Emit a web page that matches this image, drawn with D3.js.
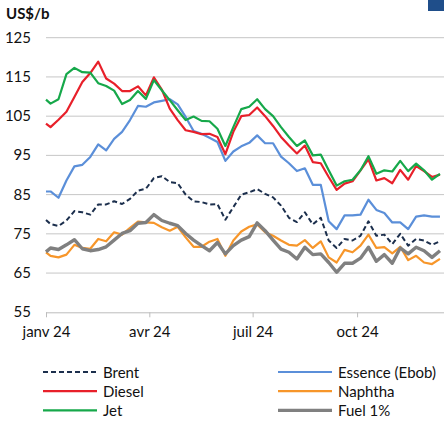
<!DOCTYPE html>
<html lang="fr">
<head>
<meta charset="UTF-8">
<title>Prix des produits pétroliers</title>
<script src="https://cdn.jsdelivr.net/npm/d3@7"></script>
<style>
  body { margin: 0; background: #fff; }
  svg { font-family: Lato, "Liberation Sans", sans-serif; }
</style>
</head>
<body>
<svg width="444" height="423"></svg>
<script>
// weekly points: 1 Jan, then Fridays from 5 Jan 2024
const dates = [new Date(2024, 0, 1)].concat(d3.timeFriday.range(new Date(2024, 0, 5), new Date(2024, 11, 14)));

const brent   = [78.5, 77.5, 77, 78.4, 80.8, 80.5, 79.9, 82.5, 82.5, 83.3, 82.6, 83.9, 86, 86.5, 89.2, 89.7, 88.2, 87.9, 85, 83.3, 83.1, 82.5, 82.6, 78.6, 81.8, 85, 85.6, 86.4, 85.2, 84.3, 82.2, 79.1, 78, 80.5, 77.4, 79.1, 73.3, 71.4, 73.7, 73.3, 74.5, 78.2, 74.5, 74.8, 72.4, 75, 72, 73.7, 73.3, 72.2, 73.1];
const essence = [85.8, 85.8, 84.2, 88.6, 92.2, 92.6, 94.6, 97.8, 96.3, 99.2, 101, 104, 107.6, 107.4, 108.5, 108.9, 109.3, 108, 104.8, 101.2, 100.5, 99.5, 98.4, 93.6, 96, 97.3, 98.2, 100.1, 98.1, 98.1, 94.7, 93, 91, 91.7, 87.5, 87.5, 78.2, 76.2, 79.7, 79.7, 79.9, 83.7, 81.1, 80.3, 77.9, 77.9, 76.2, 79.4, 79.7, 79.4, 79.4];
const diesel  = [103.1, 102.2, 104.1, 106.1, 109.9, 113.7, 116, 118.9, 114.6, 113.3, 111.4, 111.4, 112.6, 110.3, 114.9, 111.8, 106.9, 104, 101.4, 101, 100.4, 100.5, 99.7, 95.3, 101, 105, 105.3, 107.2, 105, 102.5, 99.7, 97.5, 95.5, 97.5, 93.3, 93, 89.5, 86.2, 87.8, 88.4, 91.2, 94, 88.6, 89.2, 87.9, 91.3, 88.8, 92.3, 91, 89.5, 90.1];
const naphtha = [70.3, 69.4, 69, 69.7, 72.2, 71.4, 71.2, 73.7, 73.1, 75.4, 74.8, 76.5, 78.1, 77.9, 77.8, 76.7, 75.8, 76.8, 74.1, 71.7, 71.7, 73, 73.7, 69.4, 73.3, 75.6, 76.8, 77.4, 75.4, 74.5, 73.3, 72.2, 72, 73.4, 71.4, 73.1, 69, 67.7, 70.9, 70.3, 72, 74.8, 71.4, 71.6, 70, 71.7, 68.3, 69.4, 67.7, 67.3, 68.6];
const jet     = [109.2, 108.2, 109.3, 115.7, 117.3, 116.2, 116.1, 113.4, 112.7, 111.5, 108.1, 109.1, 111.4, 109.4, 114.2, 111.6, 109.1, 106.5, 104, 104.9, 103.8, 103.7, 101.8, 97.4, 102.2, 106.8, 107.4, 109.3, 106.8, 105, 102.2, 99.7, 97.4, 98.8, 95, 95.2, 91.2, 87.3, 88.4, 88.8, 91.2, 94.8, 90.3, 91.2, 90.9, 93.6, 91, 92.9, 91.2, 88.8, 90.3];
const fuel1   = [70.4, 71.4, 71, 72.2, 73.5, 71.2, 70.7, 71, 71.7, 73.4, 75.1, 75.8, 77.7, 77.9, 79.9, 78.4, 77.7, 77.1, 75.1, 73.4, 72, 70.7, 72.8, 69.9, 72, 73.4, 74.3, 77.8, 75.8, 73.4, 71.1, 70.3, 68.6, 71.6, 69.7, 69.9, 67.7, 65.2, 67.5, 67.5, 68.8, 71.6, 68, 69.7, 67.5, 71.4, 69.9, 71.6, 70.7, 69, 70.7];

const yTicks = [55, 65, 75, 85, 95, 105, 115, 125];
const xTicks = [new Date(2024, 0, 1), new Date(2024, 3, 1), new Date(2024, 6, 1), new Date(2024, 9, 1)];
const xLabels = ["janv 24", "avr 24", "juil 24", "oct 24"];

const series = [
  { name: "Brent", values: brent, color: "#1c2f4d", width: 2, dash: "5,3" },
  { name: "Essence (Ebob)", values: essence, color: "#5b8fd9", width: 2.2 },
  { name: "Diesel", values: diesel, color: "#e8202a", width: 2.2 },
  { name: "Naphtha", values: naphtha, color: "#f7962a", width: 2.2 },
  { name: "Jet", values: jet, color: "#16a84a", width: 2.2 },
  { name: "Fuel 1%", values: fuel1, color: "#808080", width: 3.4 }
];

const svg = d3.select("svg");

const x = d3.scaleTime()
  .domain([new Date(2024, 0, 1), new Date(2024, 11, 17)])
  .range([46, 444.5]);
const y = d3.scaleLinear().domain([55, 125]).range([312.3, 37.7]);

// corner mark
svg.append("rect")
  .attr("x", 428).attr("y", 0).attr("width", 16).attr("height", 11)
  .attr("fill", "#1f4e8a");

// unit
svg.append("text")
  .attr("x", 6).attr("y", 19)
  .attr("font-size", "15px").attr("font-weight", "bold")
  .attr("fill", "#111")
  .text("US$/b");

// gridlines
svg.append("g")
  .selectAll("line")
  .data(yTicks.slice(1))
  .join("line")
  .attr("x1", 46).attr("x2", 444)
  .attr("y1", d => y(d)).attr("y2", d => y(d))
  .attr("stroke", "#c6c6c6").attr("stroke-width", 1);

// y labels
svg.append("g")
  .selectAll("text")
  .data(yTicks)
  .join("text")
  .attr("x", 31).attr("y", d => y(d) + 5)
  .attr("text-anchor", "end")
  .attr("font-size", "15px").attr("fill", "#111")
  .text(d => d);

// x axis
const xAxis = d3.axisBottom(x)
  .tickValues(xTicks)
  .tickSize(5)
  .tickFormat((d, i) => xLabels[i]);
const gx = svg.append("g")
  .attr("transform", "translate(0," + y(55) + ")")
  .call(xAxis);
gx.select(".domain").attr("stroke", "#bdbdbd").attr("d", "M46,0.5H444");
gx.selectAll(".tick line").attr("stroke", "#bdbdbd");
gx.selectAll(".tick text")
  .attr("font-family", "Lato, 'Liberation Sans', sans-serif")
  .attr("font-size", "15px").attr("fill", "#111")
  .attr("dy", "0.95em")
  .attr("y", 10);

// lines
const line = d3.line()
  .x((d, i) => x(dates[i]))
  .y(d => y(d));

svg.append("g")
  .selectAll("path")
  .data(series)
  .join("path")
  .attr("d", d => line(d.values))
  .attr("fill", "none")
  .attr("stroke", d => d.color)
  .attr("stroke-width", d => d.width)
  .attr("stroke-dasharray", d => d.dash || null)
  .attr("stroke-linejoin", "round");

// legend, two columns
const leg = svg.append("g")
  .selectAll("g")
  .data(series)
  .join("g")
  .attr("transform", (d, i) => "translate(" + (i % 2 ? 278 : 43) + "," + (372 + Math.floor(i / 2) * 19.2) + ")");

leg.append("line")
  .attr("x1", 0).attr("x2", 54)
  .attr("stroke", d => d.color)
  .attr("stroke-width", d => d.width)
  .attr("stroke-dasharray", d => d.dash || null);

leg.append("text")
  .attr("x", 60).attr("y", 5.5)
  .attr("font-size", "15px").attr("fill", "#111")
  .text(d => d.name);
</script>
</body>
</html>
